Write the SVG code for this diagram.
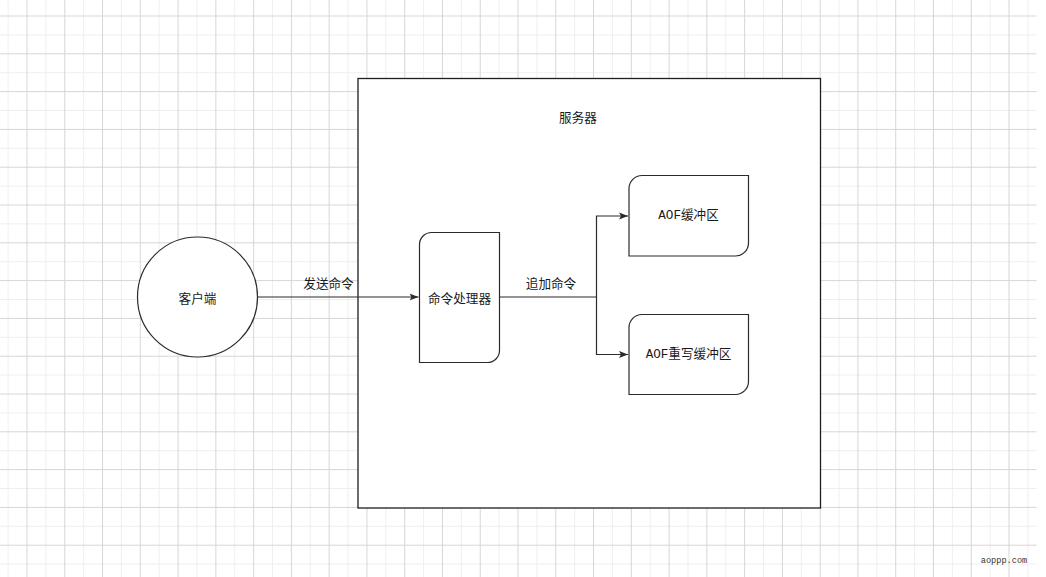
<svg xmlns="http://www.w3.org/2000/svg" width="1046" height="577" viewBox="0 0 1046 577">
  <style>
    .node { fill: #ffffff; stroke: #2b2b2b; stroke-width: 1.2; }
    .box { fill: #ffffff; stroke: #1e1e1e; stroke-width: 1.3; }
    .edge { fill: none; stroke: #2b2b2b; stroke-width: 1.2; }
    .cjk { font-family: "Noto Sans CJK SC", "Liberation Sans", sans-serif; font-size: 12.6px; fill: #1a1a1a; text-anchor: middle; dominant-baseline: central; }
    .mix { font-family: "Liberation Mono", "Noto Sans CJK SC", monospace; font-size: 12.6px; fill: #1a1a1a; text-anchor: middle; dominant-baseline: central; }
    .wm { font-family: "Liberation Mono", monospace; font-size: 8.6px; fill: #333333; text-anchor: middle; dominant-baseline: central; }
  </style>
  <defs>
    <pattern id="grid" patternUnits="userSpaceOnUse" x="26.5" y="15.5" width="37.77" height="37.8">
      <rect x="18.88" y="0" width="1" height="37.8" fill="#efefef"/>
      <rect x="0" y="18.9" width="37.77" height="1" fill="#efefef"/>
      <rect x="0" y="0" width="1" height="37.8" fill="#d6d6d6"/>
      <rect x="0" y="0" width="37.77" height="1" fill="#d6d6d6"/>
    </pattern>
    <marker id="arrow" markerWidth="10" markerHeight="8" refX="9" refY="4" orient="auto" markerUnits="userSpaceOnUse">
      <path d="M0,0.5 L9,4 L0,7.5 L2,4 Z" fill="#2b2b2b"/>
    </marker>
  </defs>

  <rect x="0" y="0" width="1046" height="577" fill="#ffffff"/>
  <rect x="0" y="0" width="1036.5" height="577" fill="url(#grid)"/>

  <g id="server">
    <rect class="box" x="358" y="78.5" width="462.5" height="429.5"/>
    <text class="cjk" x="578" y="116">服务器</text>
  </g>

  <g id="client">
    <circle class="node" cx="197.5" cy="297" r="60"/>
    <text class="cjk" x="197.5" y="297">客户端</text>
  </g>

  <g id="processor">
    <path class="node" d="M431.5,232.5 H499.5 V350.5 A12,12 0 0 1 487.5,362.5 H419.5 V244.5 A12,12 0 0 1 431.5,232.5 Z"/>
    <text class="cjk" x="459.5" y="297">命令处理器</text>
  </g>

  <g id="aof-buffer">
    <path class="node" d="M642,175.5 H748.5 V243 A13,13 0 0 1 735.5,256 H629 V188.5 A13,13 0 0 1 642,175.5 Z"/>
    <text class="mix" x="688.5" y="216">AOF缓冲区</text>
  </g>

  <g id="aof-rewrite-buffer">
    <path class="node" d="M642,314.5 H748.5 V381.5 A13,13 0 0 1 735.5,394.5 H629 V327.5 A13,13 0 0 1 642,314.5 Z"/>
    <text class="mix" x="688.5" y="355">AOF重写缓冲区</text>
  </g>

  <g id="connectors">
    <path class="edge" d="M257.5,297 H418.5" marker-end="url(#arrow)"/>
    <path class="edge" d="M499.5,297 H596.5 V216 H628" marker-end="url(#arrow)"/>
    <path class="edge" d="M596.5,297 V354.5 H628" marker-end="url(#arrow)"/>
    <text class="cjk" x="328.5" y="282">发送命令</text>
    <text class="cjk" x="551" y="282">追加命令</text>
  </g>

  <text class="wm" x="1004" y="561">aoppp.com</text>
</svg>
